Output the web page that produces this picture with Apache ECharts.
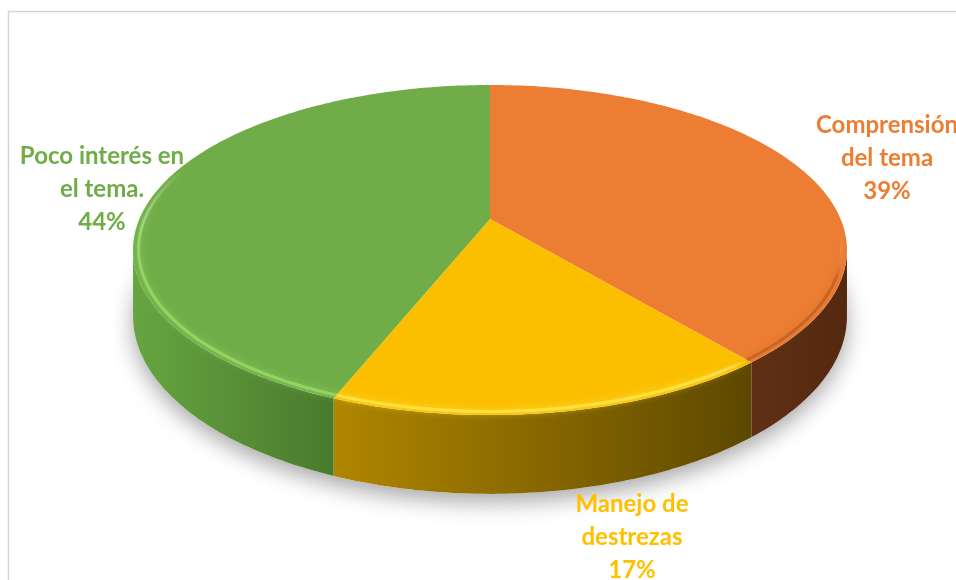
<!DOCTYPE html>
<html>
<head>
<meta charset="utf-8">
<script src="https://cdn.jsdelivr.net/npm/echarts@6/dist/echarts.min.js"></script>
<style>
  html, body { margin: 0; padding: 0; background: #ffffff; }
  #chart { width: 956px; height: 580px; }
</style>
</head>
<body>
<div id="chart"></div>
<script>
// Slice names (with the line breaks used in their labels) and their shares in percent
const categories = ['Comprensión\ndel tema', 'Manejo de\ndestrezas', 'Poco interés en\nel tema.'];
const values = [39, 17, 44];

// Slice styling
const topColors = ['#ec7d32', '#fbbf00', '#70ac48'];
const labelColors = ['#ed7d31', '#ffc000', '#70ad47'];
const wallStops = [
  ['#5f3016', '#55290f'],
  ['#b08600', '#5d4800'],
  ['#66a541', '#497a2c']
];
const rimColors = ['rgba(160,75,25,0.45)', 'rgba(255,228,70,0.9)', 'rgba(150,215,100,0.9)'];
// label centres (layout)
const labelCenters = [[887, 158], [632, 537], [102, 189]];

// Projection of the tilted disc: phi is measured clockwise from 12 o'clock,
// r is relative radius, drop is the depth of the side wall.
const CX = 490, CY = 219, AX = 350.6, BY = 159.2, K = 0.188, H = 64;
function proj(phi, r, drop) {
  const a = phi * Math.PI / 180;
  const u = r * Math.sin(a), v = r * Math.cos(a);
  const d = 1 + K * v;
  return [CX + AX * u / d, CY - BY * v / d + drop / d];
}
function arc(a0, a1, r, drop) {
  const pts = [];
  const n = Math.max(2, Math.ceil(Math.abs(a1 - a0)));
  for (let i = 0; i <= n; i++) pts.push(proj(a0 + (a1 - a0) * i / n, r, drop));
  return pts;
}

const total = values.reduce((s, v) => s + v, 0);
const starts = [];
values.reduce((acc, v) => { starts.push(acc); return acc + v / total * 360; }, 0);

// visible outer wall spans the front between the two silhouette points
const silA = 90 + Math.asin(K) * 180 / Math.PI;
const silB = 270 - Math.asin(K) * 180 / Math.PI;

function renderSlice(params, api) {
  const i = params.dataIndex;
  const a0 = starts[i];
  const a1 = a0 + api.value(0) / total * 360;
  const children = [];

  // side wall
  const w0 = Math.max(a0, silA), w1 = Math.min(a1, silB);
  if (w1 > w0) {
    const topEdge = arc(w0, w1, 1, 0);
    const botEdge = arc(w1, w0, 1, H);
    const xs = topEdge.map(p => p[0]);
    const xmin = Math.min.apply(null, xs), xmax = Math.max.apply(null, xs);
    children.push({
      type: 'polygon',
      z2: 1,
      shape: { points: topEdge.concat(botEdge) },
      style: {
        fill: new echarts.graphic.LinearGradient(xmin, 0, xmax, 0, [
          { offset: 0, color: wallStops[i][0] },
          { offset: 1, color: wallStops[i][1] }
        ], true)
      }
    });
  }

  // top face
  children.push({
    type: 'polygon',
    z2: 10,
    shape: { points: [proj(0, 0, 0)].concat(arc(a0, a1, 1, 0)) },
    style: { fill: topColors[i] }
  });

  // bevel highlight along the front rim; on the lit (left) side it runs further
  // round and fades out towards the back
  const r0 = Math.max(a0, silA - 5), r1 = Math.min(a1, silB + 30);
  if (r1 > r0) {
    const rimPts = arc(r0, r1, 0.985, 0);
    const ys = rimPts.map(p => p[1]);
    const ytop = Math.min.apply(null, ys), ybot = Math.max.apply(null, ys);
    const stroke = new echarts.graphic.LinearGradient(0, ytop, 0, ybot, [
      { offset: 0, color: 'rgba(255,255,255,0)' },
      { offset: 0.35, color: rimColors[i] },
      { offset: 1, color: rimColors[i] }
    ], true);
    children.push({
      type: 'polyline',
      z2: 11,
      shape: { points: rimPts },
      style: {
        fill: null,
        stroke: stroke,
        lineWidth: 3,
        opacity: 1,
        shadowBlur: 7,
        shadowColor: rimColors[i]
      }
    });
  }

  // data label
  const pct = Math.round(api.value(0) / total * 100) + '%';
  children.push({
    type: 'text',
    z2: 20,
    x: labelCenters[i][0],
    y: labelCenters[i][1],
    style: {
      text: categories[i] + '\n' + pct,
      fill: labelColors[i],
      font: 'bold 24px Lato, "Open Sans", sans-serif',
      align: 'center',
      verticalAlign: 'middle',
      lineHeight: 33
    }
  });

  return { type: 'group', children: children };
}

function renderShadow() {
  return {
    type: 'polygon',
    shape: { points: arc(0, 360, 1, H) },
    style: {
      fill: '#ffffff',
      shadowBlur: 22,
      shadowOffsetY: 8,
      shadowColor: 'rgba(0,0,0,0.35)'
    }
  };
}

const chart = echarts.init(document.getElementById('chart'), null, { renderer: 'canvas' });
chart.setOption({
  backgroundColor: '#ffffff',
  animation: false,
  graphic: [{
    type: 'rect',
    z: 0,
    shape: { x: 8.5, y: 11.5, width: 1200, height: 1200 },
    style: { fill: null, stroke: '#d6d6d6', lineWidth: 1.5 }
  }],
  series: [
    {
      type: 'custom',
      coordinateSystem: 'none',
      z: 1,
      data: [[1]],
      renderItem: renderShadow,
      silent: true
    },
    {
      type: 'custom',
      coordinateSystem: 'none',
      z: 2,
      data: values.map(v => [v]),
      renderItem: renderSlice,
      silent: true
    }
  ]
});
</script>
</body>
</html>
